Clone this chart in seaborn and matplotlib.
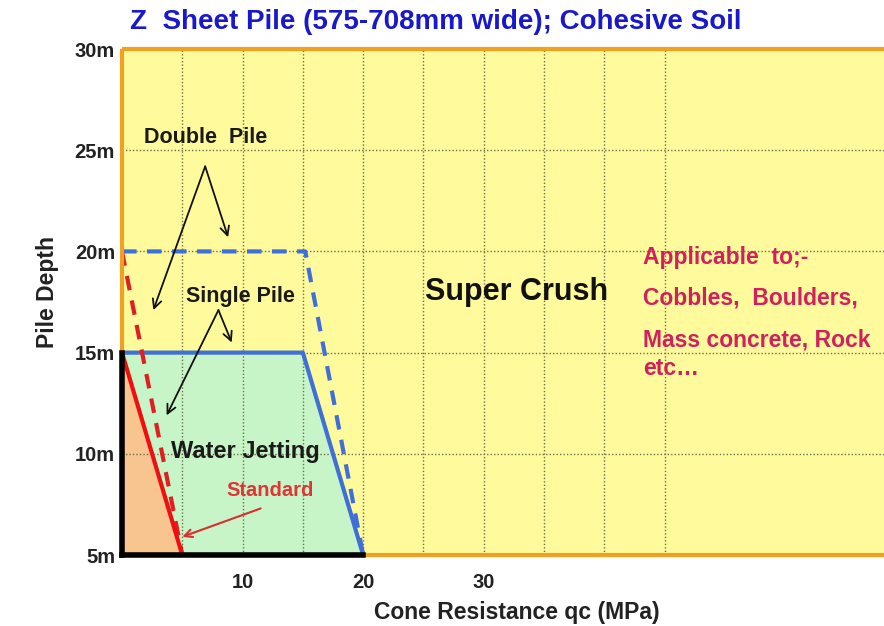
import matplotlib
matplotlib.use("Agg")
import matplotlib.pyplot as plt
import seaborn as sns
import numpy as np

# ---- data ----
standard_x = [0, 5]
standard_y = [15, 5]
standard_double_x = [0, 5]
standard_double_y = [20, 5]
jetting_single_x = [0, 15, 20]
jetting_single_y = [15, 15, 5]
jetting_double_x = [0, 15.2, 20]
jetting_double_y = [20, 20, 5]

x_major_ticks = [10, 20, 30]
x_minor_ticks = [5, 15, 25, 35, 40, 45]
y_ticks = [5, 10, 15, 20, 25, 30]
y_tick_labels = ["5m", "10m", "15m", "20m", "25m", "30m"]

sns.set_theme(style="white")
plt.rcParams['font.family'] = ['Liberation Sans', 'DejaVu Sans']

fig = plt.figure(figsize=(8.84, 6.26), dpi=100)
ax = fig.add_axes([0.138, 0.1134, 0.862, 0.8083])
ax.set_xlim(0, 63.2)
ax.set_ylim(5, 30)
ax.set_facecolor('#FFFA9C')

# fills
y_base = y_ticks[0]
ax.fill_between(jetting_single_x, jetting_single_y, y_base, color='#C8F5C8', lw=0, zorder=1)
ax.fill_between(standard_x, standard_y, y_base, color='#F8C490', lw=0, zorder=1.5)

# grid
ax.set_xticks(x_major_ticks)
ax.set_xticks(x_minor_ticks, minor=True)
ax.set_xticklabels([str(t) for t in x_major_ticks])
ax.set_yticks(y_ticks)
ax.set_yticklabels(y_tick_labels)
ax.grid(True, which='both', axis='x', linestyle=(0, (1, 1.5)), color='#6f6f4a', lw=1.0, zorder=1.7)
ax.grid(True, which='major', axis='y', linestyle=(0, (1, 1.5)), color='#6f6f4a', lw=1.0, zorder=1.7)
ax.set_axisbelow(False)
for gl in ax.get_xgridlines() + ax.get_ygridlines():
    gl.set_zorder(1.7)

# lines
sns.lineplot(x=jetting_double_x, y=jetting_double_y, sort=False, estimator=None, ax=ax,
             color='#3F6FD8', lw=3, linestyle=(0, (3.5, 2.5)), zorder=3)
sns.lineplot(x=jetting_single_x, y=jetting_single_y, sort=False, estimator=None, ax=ax,
             color='#3F6FD8', lw=3, zorder=3)
sns.lineplot(x=standard_double_x, y=standard_double_y, sort=False, estimator=None, ax=ax,
             color='#E02020', lw=3, linestyle=(0, (3.5, 2.5)), zorder=3)
sns.lineplot(x=standard_x, y=standard_y, sort=False, estimator=None, ax=ax,
             color='#EE1010', lw=3, zorder=3.2)

# spines
for s in ax.spines.values():
    s.set_visible(False)
orange = '#F2A020'
ax.plot([0, 0], [jetting_single_y[0], 30], color=orange, lw=3, clip_on=False, zorder=5, solid_capstyle='butt')
ax.plot([0, 63.2], [30, 30], color=orange, lw=3, clip_on=False, zorder=5, solid_capstyle='butt')
ax.plot([jetting_single_x[-1], 63.2], [y_base, y_base], color=orange, lw=3, clip_on=False, zorder=5, solid_capstyle='butt')
ax.plot([0, 0], [y_base, jetting_single_y[0]], color='black', lw=4, clip_on=False, zorder=6, solid_capstyle='projecting')
ax.plot([0, jetting_single_x[-1]], [y_base, y_base], color='black', lw=4, clip_on=False, zorder=6, solid_capstyle='projecting')

ax.tick_params(axis='both', which='both', length=0)
ax.tick_params(axis='x', pad=13, labelsize=14.5)
ax.tick_params(axis='y', pad=5, labelsize=14.5)
for lbl in ax.get_xticklabels() + ax.get_yticklabels():
    lbl.set_fontweight('bold')
    lbl.set_color('#222222')

ax.set_xlabel('Cone Resistance qc (MPa)', fontsize=16.5, fontweight='bold', color='#222222')
ax.set_ylabel('Pile Depth', fontsize=16.5, fontweight='bold', color='#222222')
ax.xaxis.set_label_coords(0.518, -0.09)
ax.yaxis.set_label_coords(-0.083, 0.52)

fig.text(130/884, 1 - 22/626, 'Z  Sheet Pile (575-708mm wide); Cohesive Soil',
         fontsize=20, fontweight='bold', color='#1818CC', ha='left', va='center')

# annotations
arrow_kw = dict(arrowstyle='->', color='#111111', lw=1.3, shrinkA=0, shrinkB=0,
                mutation_scale=16)
ax.text(6.9, 25.65, 'Double  Pile', fontsize=15.5, fontweight='bold', color='#1a1a1a', ha='center', va='center', zorder=7)
ax.annotate('', xy=(2.6, 17.1), xytext=(6.9, 24.2), arrowprops=arrow_kw, zorder=7)
ax.annotate('', xy=(8.8, 20.7), xytext=(6.9, 24.2), arrowprops=arrow_kw, zorder=7)
ax.text(9.8, 17.75, 'Single Pile', fontsize=15.5, fontweight='bold', color='#1a1a1a', ha='center', va='center', zorder=7)
ax.annotate('', xy=(3.7, 11.9), xytext=(8.0, 17.1), arrowprops=arrow_kw, zorder=7)
ax.annotate('', xy=(9.1, 15.5), xytext=(8.0, 17.1), arrowprops=arrow_kw, zorder=7)
ax.text(10.2, 10.1, 'Water Jetting', fontsize=17, fontweight='bold', color='#1a1a1a', ha='center', va='center', zorder=7)
ax.text(12.3, 8.2, 'Standard', fontsize=14.5, fontweight='bold', color='#E03535', ha='center', va='center', zorder=7)
ax.annotate('', xy=(5.0, 5.9), xytext=(11.5, 7.3),
            arrowprops=dict(arrowstyle='->', color='#D83030', lw=1.5, shrinkA=0, shrinkB=0, mutation_scale=14), zorder=7)
ax.text(32.7, 18.0, 'Super Crush', fontsize=22, fontweight='bold', color='#111111', ha='center', va='center', zorder=7)
pink = '#D0205E'
for yy, t in [(19.7, 'Applicable  to;-'), (17.7, 'Cobbles,  Boulders,'),
              (15.6, 'Mass concrete, Rock'), (14.2, 'etc\u2026')]:
    ax.text(43.2, yy, t, fontsize=16.5, fontweight='bold', color=pink, ha='left', va='center', zorder=7)

fig.savefig('out.png', dpi=100)
